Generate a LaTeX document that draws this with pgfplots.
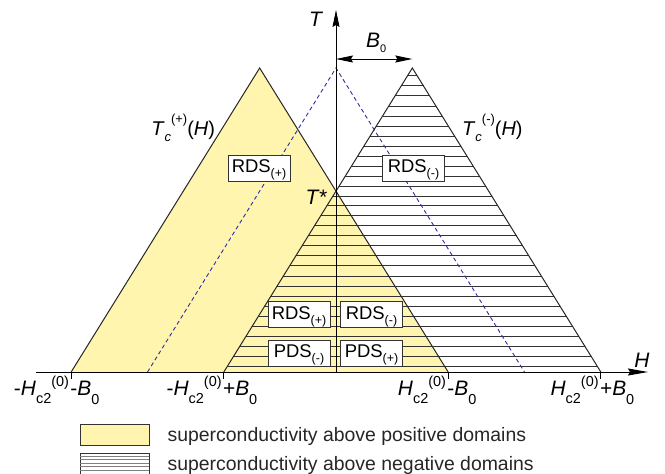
\documentclass[border=0pt]{standalone}
\usepackage{fontspec}
\setmainfont{Liberation Sans}
\usepackage{pgfplots}
\pgfplotsset{compat=1.18}
\usetikzlibrary{arrows.meta}
\definecolor{yfill}{RGB}{255,245,175}
\definecolor{dashblue}{RGB}{45,45,165}
\newcommand{\fs}[1]{\fontsize{#1}{#1}\selectfont}
\tikzset{
  boxst/.style={draw=black!80, line width=0.9bp, fill=white, minimum width=62bp, minimum height=26bp, inner sep=0pt, text height=13bp, text depth=3.6bp, font=\fs{18.5}},
  lab/.style={inner sep=0pt, font=\fs{20}},
  tlab/.style={inner sep=0pt, font=\fs{21}},
}
\newcommand{\lowsub}[2]{\raisebox{-#1}{\fs{14.5}#2}}
\newcommand{\hisup}[2]{\raisebox{#1}{\fs{14.5}#2}}
\begin{document}
\begin{tikzpicture}
\begin{axis}[
  width=665bp, height=474bp, scale only axis,
  xmin=-1.7825, xmax=1.7454, ymin=-0.3355, ymax=1.2237,
  hide axis, clip=false,
  unbounded coords=jump,
  legend cell align=left,
  legend style={at={(axis cs:-1.3581,-0.1711)}, anchor=north west, draw=none, fill=none,
    inner sep=0pt, outer sep=0pt, row sep=6.7bp, font=\fs{19.5}, text=black!85,
    nodes={inner sep=0pt, text height=14bp, text depth=4bp}},
]
\coordinate (bl) at (rel axis cs:0,0);
\coordinate (tr) at (rel axis cs:1,1);
% superconductivity above positive domains (yellow)
\addplot[forget plot, fill=yfill, draw=none] coordinates {(-1.405,0) (-0.405,1) (0.595,0)} \closedcycle;
% hatching: superconductivity above negative domains
\addplot[forget plot, black!80, line width=1bp] table[row sep=\\] {
x y\\
-0.5753 0.0197\\ 1.3853 0.0197\\ nan nan\\
-0.5424 0.0526\\ 1.3524 0.0526\\ nan nan\\
-0.5095 0.0855\\ 1.3195 0.0855\\ nan nan\\
-0.4766 0.1184\\ 1.2866 0.1184\\ nan nan\\
-0.4437 0.1513\\ 1.2537 0.1513\\ nan nan\\
-0.4108 0.1842\\ 1.2208 0.1842\\ nan nan\\
-0.3779 0.2171\\ 1.1879 0.2171\\ nan nan\\
-0.3450 0.2500\\ 1.1550 0.2500\\ nan nan\\
-0.3121 0.2829\\ 1.1221 0.2829\\ nan nan\\
-0.2792 0.3158\\ 1.0892 0.3158\\ nan nan\\
-0.2463 0.3487\\ 1.0563 0.3487\\ nan nan\\
-0.2134 0.3816\\ 1.0234 0.3816\\ nan nan\\
-0.1805 0.4145\\ 0.9905 0.4145\\ nan nan\\
-0.1476 0.4474\\ 0.9576 0.4474\\ nan nan\\
-0.1147 0.4803\\ 0.9247 0.4803\\ nan nan\\
-0.0818 0.5132\\ 0.8918 0.5132\\ nan nan\\
-0.0489 0.5461\\ 0.8589 0.5461\\ nan nan\\
-0.0161 0.5789\\ 0.8261 0.5789\\ nan nan\\
0.0168 0.6118\\ 0.7932 0.6118\\ nan nan\\
0.0497 0.6447\\ 0.7603 0.6447\\ nan nan\\
0.0826 0.6776\\ 0.7274 0.6776\\ nan nan\\
0.1155 0.7105\\ 0.6945 0.7105\\ nan nan\\
0.1484 0.7434\\ 0.6616 0.7434\\ nan nan\\
0.1813 0.7763\\ 0.6287 0.7763\\ nan nan\\
0.2142 0.8092\\ 0.5958 0.8092\\ nan nan\\
0.2471 0.8421\\ 0.5629 0.8421\\ nan nan\\
0.2800 0.8750\\ 0.5300 0.8750\\ nan nan\\
0.3129 0.9079\\ 0.4971 0.9079\\ nan nan\\
0.3458 0.9408\\ 0.4642 0.9408\\ nan nan\\
0.3787 0.9737\\ 0.4313 0.9737\\
};
% dashed line (B0 = 0)
\addplot[forget plot, dashblue, line width=0.9bp, dash pattern=on 4bp off 3bp] coordinates {(-1,0) (0,1) (1,0)};
% triangle edges
\addplot[forget plot, black!85, line width=1bp] coordinates {(-1.405,0) (-0.405,1) (0.595,0)};
\addplot[forget plot, black!85, line width=1bp] coordinates {(-0.595,0) (0.405,1) (1.405,0)};
% axes
\draw[line width=1bp, -{Stealth[length=20bp,width=7bp,inset=2bp]}] (axis cs:-1.5915,0) -- (axis cs:1.6552,0);
\draw[line width=0.9bp, -{Stealth[length=17bp,width=7bp,inset=2bp]}] (axis cs:0,0) -- (axis cs:0,1.1908);
\draw[line width=1bp] (axis cs:-1.405,0) -- (axis cs:-1.405,-0.023);
\draw[line width=1bp] (axis cs:-0.595,0) -- (axis cs:-0.595,-0.023);
\draw[line width=1bp] (axis cs:0.595,0) -- (axis cs:0.595,-0.023);
\draw[line width=1bp] (axis cs:1.405,0) -- (axis cs:1.405,-0.023);
\draw[line width=1bp, {Stealth[length=17bp,width=7bp,inset=2bp]}-{Stealth[length=17bp,width=7bp,inset=2bp]}] (axis cs:0,1.0296) -- (axis cs:0.405,1.0296);
% axis labels
\node[tlab, anchor=center] at (axis cs:-0.106,1.161) {\textit{T}};
\node[tlab, anchor=center] at (axis cs:1.623,0.0395) {\textit{H}};
\node[tlab, anchor=base west] at (axis cs:0.159,1.0658) {\textit{B}\raisebox{-5bp}{\fs{11}0}};
\node[tlab, anchor=base west] at (axis cs:-0.1620,0.5526) {\textit{T*}};
\node[lab, anchor=base west] at (axis cs:-0.981,0.7796) {\textit{T}\raisebox{-6bp}{\fs{13}\textit{c}}\raisebox{12bp}{\fs{13}(+)}(\textit{H})};
\node[lab, anchor=base west] at (axis cs:0.668,0.7796) {\textit{T}\raisebox{-6bp}{\fs{13}\textit{c}}\raisebox{12bp}{\fs{13}(-)}(\textit{H})};
% tick labels
\node[tlab, anchor=base east, xshift=-2bp] at (axis cs:-1.405,-0.0789) {-\textit{H}\lowsub{8bp}{c2}\hisup{9bp}{(0)}};
\node[tlab, anchor=base west, xshift=-1bp] at (axis cs:-1.405,-0.0789) {-\textit{B}\lowsub{9bp}{0}};
\node[tlab, anchor=base east, xshift=-2bp] at (axis cs:-0.595,-0.0789) {-\textit{H}\lowsub{8bp}{c2}\hisup{9bp}{(0)}};
\node[tlab, anchor=base west, xshift=-1bp] at (axis cs:-0.595,-0.0789) {+\textit{B}\lowsub{9bp}{0}};
\node[tlab, anchor=base east, xshift=-2bp] at (axis cs:0.595,-0.0789) {\textit{H}\lowsub{8bp}{c2}\hisup{9bp}{(0)}};
\node[tlab, anchor=base west, xshift=-1bp] at (axis cs:0.595,-0.0789) {-\textit{B}\lowsub{9bp}{0}};
\node[tlab, anchor=base east, xshift=-2bp] at (axis cs:1.405,-0.0789) {\textit{H}\lowsub{8bp}{c2}\hisup{9bp}{(0)}};
\node[tlab, anchor=base west, xshift=-1bp] at (axis cs:1.405,-0.0789) {+\textit{B}\lowsub{9bp}{0}};
% domain boxes
\node[boxst] at (axis cs:-0.4085,0.6711) {RDS\raisebox{-5bp}{\fs{12.5}(+)}};
\node[boxst] at (axis cs:0.4111,0.6711) {RDS\raisebox{-5bp}{\fs{12.5}(-)}};
\node[boxst] at (axis cs:-0.1963,0.1891) {RDS\raisebox{-5bp}{\fs{12.5}(+)}};
\node[boxst] at (axis cs:0.1883,0.1891) {RDS\raisebox{-5bp}{\fs{12.5}(-)}};
\node[boxst] at (axis cs:-0.1963,0.0625) {PDS\raisebox{-5bp}{\fs{12.5}(-)}};
\node[boxst] at (axis cs:0.1883,0.0625) {PDS\raisebox{-5bp}{\fs{12.5}(+)}};
% legend
\addlegendimage{legend image code/.code={\draw[draw=black!80, fill=yfill, line width=0.8bp] (0bp,-8.7bp) rectangle (69bp,12.3bp);
  \path (87bp,0bp);}}
\addlegendentry{superconductivity above positive domains}
\addlegendimage{legend image code/.code={\draw[black!80, line width=0.8bp] (0bp,-8.7bp) rectangle (69bp,12.3bp);
  \draw[gray, line width=0.8bp] (0bp,-5.2bp) -- (69bp,-5.2bp) (0bp,-1.5bp) -- (69bp,-1.5bp) (0bp,2.2bp) -- (69bp,2.2bp) (0bp,5.9bp) -- (69bp,5.9bp) (0bp,9.3bp) -- (69bp,9.3bp);
  \path (87bp,0bp);}}
\addlegendentry{superconductivity above negative domains}
\end{axis}
\pgfresetboundingbox
\path (bl) rectangle (tr);
\end{tikzpicture}
\end{document}
